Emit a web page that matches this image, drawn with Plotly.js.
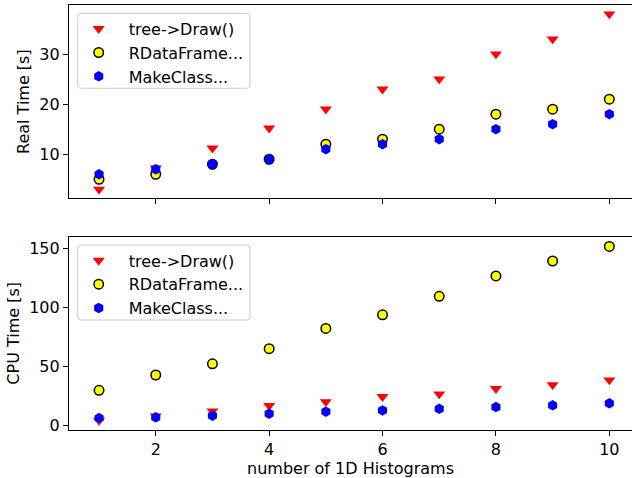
<!DOCTYPE html>
<html>
<head>
<meta charset="utf-8">
<script src="https://cdn.plot.ly/plotly-3.0.1.min.js"></script>
<style>html,body{margin:0;padding:0;background:#fff;}</style>
</head>
<body>
<div id="chart" style="width:632px;height:478px;"></div>
<script>
// ---- data ----
const nHist = [1, 2, 3, 4, 5, 6, 7, 8, 9, 10];
const seriesNames = ["tree->Draw()", "RDataFrame...", "MakeClass..."];
const realTree = [3.0, 7.2, 11.2, 15.2, 19, 23, 25, 30, 33, 38];
const realRDF  = [5, 6, 8, 9, 12, 13, 15, 18, 19, 21];
const realMC   = [6, 7, 8, 9, 11, 12, 13, 15, 16, 18];
const cpuTree  = [4.5, 8.2, 12.4, 17, 20.3, 24.6, 26.9, 31.4, 34.7, 38.7];
const cpuRDF   = [30, 43, 52.5, 65.3, 82.5, 94, 109.7, 127, 139.6, 152];
const cpuMC    = [6.5, 7.1, 8.5, 10.2, 11.9, 13, 14.4, 15.8, 17.3, 19];
const xTicks = [2, 4, 6, 8, 10];
const realTicks = [10, 20, 30];
const cpuTicks = [0, 50, 100, 150];

const FONT = "DejaVu Sans";
const FS = 16;
const styles = [
  {symbol: "triangle-down", size: 10.5, color: "#ff0000", line: {width: 0}},
  {symbol: "circle", size: 9.5, color: "#ffff00", line: {width: 1.5, color: "#000000"}},
  {symbol: "hexagon", size: 10.5, color: "#0000ff", line: {width: 0}}
];

function mk(y, i, xa, ya, leg) {
  return {
    type: "scatter", mode: "markers", x: nHist, y: y,
    name: seriesNames[i], marker: styles[i],
    xaxis: xa, yaxis: ya, legend: leg, legendgroup: leg + i,
    hoverinfo: "skip"
  };
}
const data = [
  mk(realTree, 0, "x", "y", "legend"),
  mk(realRDF, 1, "x", "y", "legend"),
  mk(realMC, 2, "x", "y", "legend"),
  mk(cpuTree, 0, "x2", "y2", "legend2"),
  mk(cpuRDF, 1, "x2", "y2", "legend2"),
  mk(cpuMC, 2, "x2", "y2", "legend2")
];

const axBase = {
  showline: true, linecolor: "#000", linewidth: 1.1,
  ticks: "outside", ticklen: 5, tickwidth: 1.1, tickcolor: "#000",
  showgrid: false, zeroline: false,
  tickfont: {family: FONT, size: FS, color: "#000"}
};
const xRange = [0.47, 10.40];
const plotPxTop = 5, plotPxBot = 430, plotH = plotPxBot - plotPxTop;
const py = p => (plotPxBot - p) / plotH;
const px = p => (p - 69) / 563;

function roundRect(x0, y0, x1, y1) {
  const rx = 3 / 563, ry = 3 / 425;
  const a = px(x0), b = px(x1), t = py(y0), u = py(y1);
  return `M${a + rx},${t} L${b - rx},${t} Q${b},${t} ${b},${t - ry} L${b},${u + ry} Q${b},${u} ${b - rx},${u} L${a + rx},${u} Q${a},${u} ${a},${u + ry} L${a},${t - ry} Q${a},${t} ${a + rx},${t} Z`;
}

const legBase = {
  bgcolor: "rgba(0,0,0,0)", borderwidth: 0,
  font: {family: FONT, size: FS, color: "#000"},
  xanchor: "left", yanchor: "top",
  itemwidth: 50, tracegroupgap: 0, traceorder: "grouped"
};

const layout = {
  width: 632, height: 478,
  margin: {l: 69, r: 0, t: plotPxTop, b: 478 - plotPxBot, pad: 0},
  paper_bgcolor: "#fff", plot_bgcolor: "#fff",
  font: {family: FONT, size: FS, color: "#000"},
  xaxis: Object.assign({}, axBase, {domain: [0, 1], range: xRange, tickvals: xTicks,
    showticklabels: false, mirror: true, anchor: "y"}),
  yaxis: Object.assign({}, axBase, {domain: [py(198.3), 1], range: [1.2, 39.8],
    tickvals: realTicks, anchor: "x",
    title: {text: "Real Time [s]", font: {family: FONT, size: FS, color: "#000"}, standoff: 5}}),
  xaxis2: Object.assign({}, axBase, {domain: [0, 1], range: xRange, tickvals: xTicks,
    mirror: true, anchor: "y2",
    title: {text: "number of 1D Histograms", font: {family: FONT, size: FS, color: "#000"}, standoff: 4}}),
  yaxis2: Object.assign({}, axBase, {domain: [0, py(236.7)], range: [-3.6, 160.2],
    tickvals: cpuTicks, anchor: "x2",
    title: {text: "CPU Time [s]", font: {family: FONT, size: FS, color: "#000"}, standoff: 5}}),
  legend: Object.assign({}, legBase, {x: px(77.7 - 9), y: py(13.3 - 1.5)}),
  legend2: Object.assign({}, legBase, {x: px(77.7 - 9), y: py(245 - 1.5)}),
  shapes: [
    {type: "path", xref: "paper", yref: "paper", path: roundRect(77.7, 13.3, 250, 88.3),
     line: {color: "#cccccc", width: 1}, fillcolor: "rgba(0,0,0,0)", layer: "above"},
    {type: "path", xref: "paper", yref: "paper", path: roundRect(77.7, 245, 250, 320),
     line: {color: "#cccccc", width: 1}, fillcolor: "rgba(0,0,0,0)", layer: "above"}
  ],
  showlegend: true
};

Plotly.newPlot("chart", data, layout, {staticPlot: true, displayModeBar: false});
</script>
</body>
</html>
